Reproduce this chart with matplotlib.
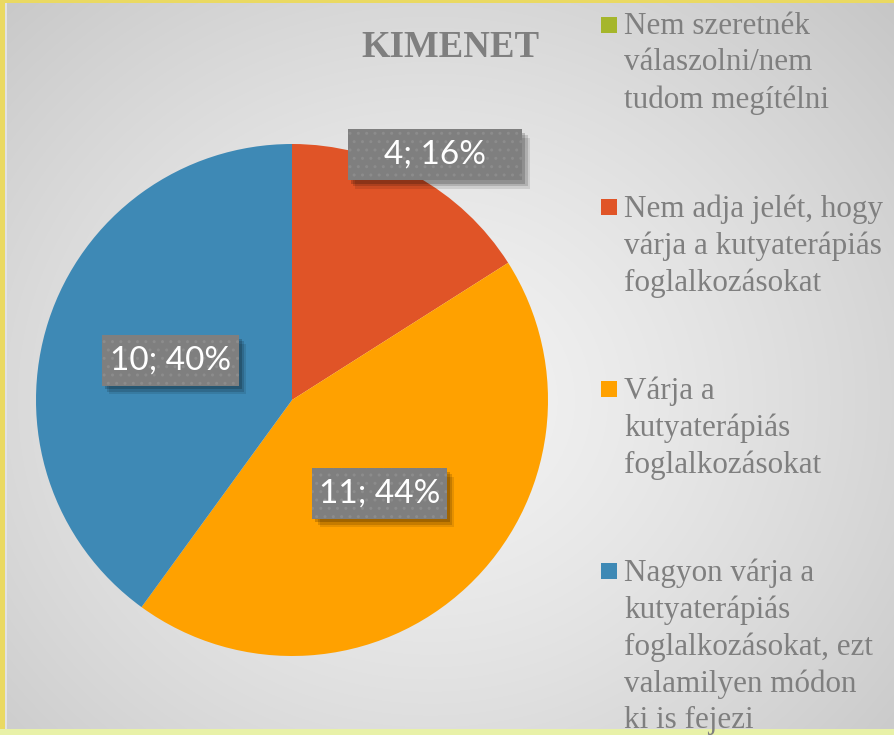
import numpy as np
import matplotlib
matplotlib.use("Agg")
import matplotlib.pyplot as plt
from matplotlib.patches import Rectangle

# chart data
categories = [
    "Nem szeretnék\nválaszolni/nem\ntudom megítélni",
    "Nem adja jelét, hogy\nvárja a kutyaterápiás\nfoglalkozásokat",
    "Várja a\nkutyaterápiás\nfoglalkozásokat",
    "Nagyon várja a\nkutyaterápiás\nfoglalkozásokat, ezt\nvalamilyen módon\nki is fejezi",
]
counts = [0, 4, 11, 10]
colors = ["#A5B62B", "#E05427", "#FFA100", "#3E89B5"]
title = "KIMENET"

W, H = 894, 735
fig = plt.figure(figsize=(W / 100, H / 100), dpi=100)

# background: radial grey gradient with a yellow frame
bg = fig.add_axes([0, 0, 1, 1])
bg.set_xlim(0, W)
bg.set_ylim(H, 0)
bg.axis("off")
yy, xx = np.mgrid[0:H, 0:W]
d = np.hypot((xx - 430) / 620.0, (yy - 400) / 560.0)
shade = np.clip(0.955 - 0.17 * d ** 1.3, 0, 1)
img = np.dstack([shade, shade, shade])
bg.imshow(img, extent=(0, W, H, 0), aspect="auto", zorder=0)
bg.add_patch(Rectangle((0, 0), 5, H, color="#EAD962", lw=0, zorder=1))
bg.add_patch(Rectangle((0, 0), W, 3, color="#EAD962", lw=0, zorder=1))
bg.add_patch(Rectangle((0, 729), W, 6, color="#E8F1A8", lw=0, zorder=1))
bg.add_patch(Rectangle((5, 3), 2, 726, color="#e2e2e2", lw=0, zorder=1))

bg.text(450, 47, title, ha="center", va="center", fontsize=26.5,
        fontweight="bold", family="Liberation Serif", color="#7f7f7f")

# legend drawn by hand: square marker beside the first line of each entry
for i, (lab, col) in enumerate(zip(categories, colors)):
    y0 = 25 + i * 182
    bg.add_patch(Rectangle((601, y0 - 8), 16, 16, color=col, lw=0, zorder=2))
    bg.text(624, y0 - 13, lab, ha="left", va="top", fontsize=22.4,
            family="Liberation Serif", color="#7f7f7f", linespacing=1.34,
            zorder=2)

# pie
cx, cy, r = 292, 400, 256
ax = fig.add_axes([(cx - r) / W, (H - cy - r) / H, 2 * r / W, 2 * r / H])
wedges, _ = ax.pie(counts, colors=colors, startangle=90, counterclock=False,
                   radius=1, wedgeprops=dict(linewidth=0))
ax.set_xlim(-1, 1)
ax.set_ylim(-1, 1)
ax.axis("off")

total = sum(counts)
label_r = [0, 1.11, 0.5, 0.5]
label_shift = [0, -1.5, 0, 0]   # degrees
box_w = [0, 0.68, 0.525, 0.535]
for w, n, lr, sh, bw in zip(wedges, counts, label_r, label_shift, box_w):
    if n == 0:
        continue
    mid = np.deg2rad((w.theta1 + w.theta2) / 2 + sh)
    x, y = lr * np.cos(mid), lr * np.sin(mid)
    txt = f"{n}; {round(100 * n / total)}%"
    bh = 0.198
    # soft drop shadow towards the lower right
    for off, a in [(0.028, 0.10), (0.020, 0.14), (0.012, 0.18)]:
        ax.add_patch(Rectangle((x - bw / 2 + off, y - bh / 2 - off * 1.2),
                               bw, bh, color="#000000", alpha=a, lw=0,
                               zorder=3, clip_on=False))
    ax.add_patch(Rectangle((x - bw / 2, y - bh / 2), bw, bh,
                           facecolor="#7f7f7f", edgecolor="#8c8c8c",
                           hatch="..", lw=0, zorder=4, clip_on=False))
    ax.text(x, y, txt, ha="center", va="center", fontsize=24,
            family="Lato", color="white", zorder=5)

fig.savefig("out.png", dpi=100)
